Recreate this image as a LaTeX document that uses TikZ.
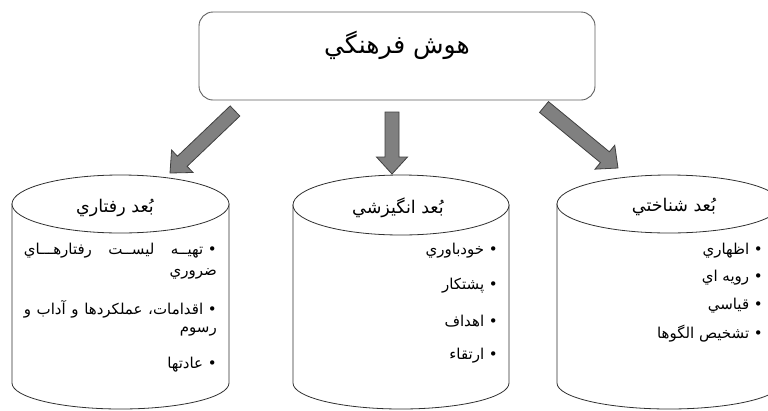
\documentclass[tikz,border=0pt]{standalone}
\usepackage{fontspec}
\usetikzlibrary{calc}
\TeXXeTstate=1
\newfontfamily\arabicfont[Script=Arabic]{DejaVu Sans}
\definecolor{arrfill}{HTML}{808080}
\definecolor{arrline}{HTML}{404040}
\definecolor{boxline}{HTML}{606060}
\definecolor{cylline}{HTML}{303030}
\tikzset{
  titletext/.style={font=\arabicfont\fontsize{25}{28}\selectfont, inner sep=0pt},
  headtext/.style={font=\arabicfont\fontsize{17.5}{20}\selectfont, inner sep=0pt},
  itemtext/.style={font=\arabicfont\fontsize{15}{18}\selectfont, inner sep=0pt, anchor=east},
  cylpath/.style={draw=cylline, line width=0.8pt, fill=white},
  blockarrow/.style={draw=arrline, line width=0.8pt, fill=arrfill, line join=miter},
  topbox/.style={draw=boxline, line width=0.9pt, rounded corners=14pt, fill=white, inner sep=0pt}
}
\newcommand\blockarr[2]{%
  \coordinate (#1h) at ($(#2)!17pt!(#1)$);
  \draw[blockarrow] ($(#1)!7pt!90:(#2)$) -- ($(#1h)!7pt!90:(#2)$) -- ($(#1h)!15.5pt!90:(#2)$) -- (#2)
     -- ($(#1h)!15.5pt!-90:(#2)$) -- ($(#1h)!7pt!-90:(#2)$) -- ($(#1)!7pt!-90:(#2)$) -- cycle;}
% cx, rx, ytop, ybot, rytop, rybot
\newcommand\cylinderdraw[6]{%
  \draw[cylpath] (#1-#2,#3) -- (#1-#2,#4) arc[start angle=180, end angle=360, x radius=#2pt, y radius=#6pt] -- (#1+#2,#3) -- cycle;
  \draw[cylpath] (#1,#3) ellipse [x radius=#2pt, y radius=#5pt];}
\begin{document}
\begin{tikzpicture}[x=1pt, y=-1pt]
\useasboundingbox (0,0) rectangle (768,410);
\clip (0,0) rectangle (768,410);
\fill[white] (0,0) rectangle (768,410);

% top box
\node[topbox, minimum width=396pt, minimum height=88pt] (top) at (397,56) {};
\node[titletext] (title) at (397,45) {\beginR هوش فرهنگي\endR};

% cylinders
\cylinderdraw{120.5}{108.5}{204}{383}{29}{26}
\cylinderdraw{401}{108}{205}{383}{30}{26}
\cylinderdraw{669}{112}{204}{383}{29}{26}

% arrows
\coordinate (la) at (235,111);
\coordinate (lt) at (170,173);
\coordinate (ma) at (392,112);
\coordinate (mt) at (392,174);
\coordinate (ra) at (544,107);
\coordinate (rt) at (618,168);
\blockarr{la}{lt}
\blockarr{ma}{mt}
\blockarr{ra}{rt}

% headers
\node[headtext] (h1) at (115,208) {\beginR بُعد رفتاري\endR};
\node[headtext] (h2) at (398,208) {\beginR بُعد انگيزشي\endR};
\node[headtext] (h3) at (674,207) {\beginR بُعد شناختي\endR};

% left items
\node[itemtext] (l1) at (217,251) {\hbox to 193pt{\beginR •~تهيــه\hfill ليســت\hfill رفتارهـــاي\endR}};
\node[itemtext] (l2) at (217,274) {\beginR ضروري\endR};
\node[itemtext] (l3) at (217,309) {\hbox to 193pt{\beginR •~اقدامات،\hfill عملكردها\hfill و\hfill آداب\hfill و\endR}};
\node[itemtext] (l4) at (217,332) {\beginR رسوم\endR};
\node[itemtext] (l5) at (217,365) {\beginR •~عادتها\endR};

% middle items
\node[itemtext] (m1) at (498,251) {\beginR •~خودباوري\endR};
\node[itemtext] (m2) at (498,286) {\beginR •~پشتكار\endR};
\node[itemtext] (m3) at (498,321) {\beginR •~اهداف\endR};
\node[itemtext] (m4) at (498,356) {\beginR •~ارتقاء\endR};

% right items
\node[itemtext] (r1) at (763,251) {\beginR •~اظهاري\endR};
\node[itemtext] (r2) at (763,278) {\beginR •~رويه اي\endR};
\node[itemtext] (r3) at (763,306) {\beginR •~قياسي\endR};
\node[itemtext] (r4) at (763,334) {\beginR •~تشخيص الگوها\endR};
\end{tikzpicture}
\end{document}
